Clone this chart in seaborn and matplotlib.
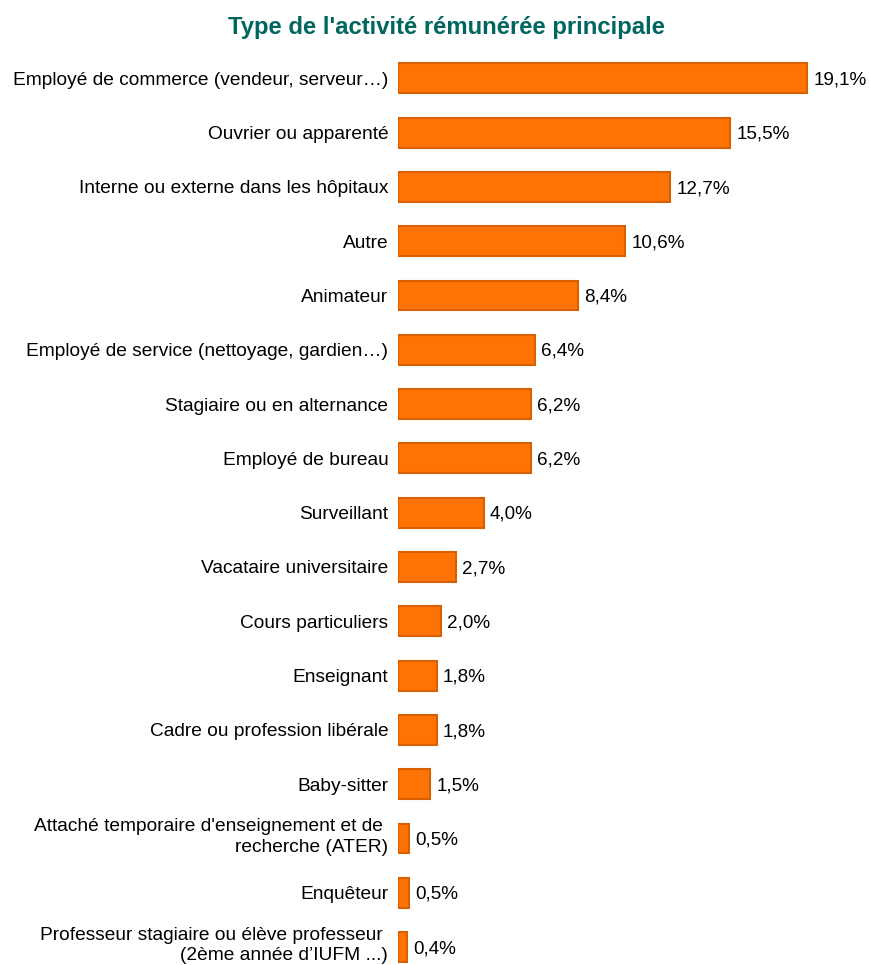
import matplotlib
matplotlib.use("Agg")
import matplotlib.pyplot as plt
import matplotlib.transforms as mtransforms
import seaborn as sns
import pandas as pd

categories = [
    "Employé de commerce (vendeur, serveur…)",
    "Ouvrier ou apparenté",
    "Interne ou externe dans les hôpitaux",
    "Autre",
    "Animateur",
    "Employé de service (nettoyage, gardien…)",
    "Stagiaire ou en alternance",
    "Employé de bureau",
    "Surveillant",
    "Vacataire universitaire",
    "Cours particuliers",
    "Enseignant",
    "Cadre ou profession libérale",
    "Baby-sitter",
    "Attaché temporaire d'enseignement et de \nrecherche (ATER)",
    "Enquêteur",
    "Professeur stagiaire ou élève professeur \n(2ème année d’IUFM ...)",
]
values = [19.1, 15.5, 12.7, 10.6, 8.4, 6.4, 6.2, 6.2, 4.0, 2.7, 2.0, 1.8, 1.8, 1.5, 0.5, 0.5, 0.4]
value_labels = ["19,1%", "15,5%", "12,7%", "10,6%", "8,4%", "6,4%", "6,2%", "6,2%", "4,0%",
                "2,7%", "2,0%", "1,8%", "1,8%", "1,5%", "0,5%", "0,5%", "0,4%"]
title = "Type de l'activité rémunérée principale"

df = pd.DataFrame({"cat": categories, "val": values})

sns.set_theme(style="white")
plt.rcParams["font.family"] = ["Liberation Sans", "DejaVu Sans"]

fig = plt.figure(figsize=(8.69, 9.65), dpi=100)
ax = fig.add_axes([0.458, 0.0, 0.542, 0.947])

sns.barplot(data=df, x="val", y="cat", ax=ax, color="#FF7304", saturation=1,
            width=0.55, edgecolor="#D96000", linewidth=1.5)

for i, (v, lab) in enumerate(zip(values, value_labels)):
    ax.text(v + 0.3, i + 0.03, lab, va="center", ha="left", fontsize=13.6, color="#000000")

ax.set_xlim(0, 22.0)
ax.set_ylim(16.33, -0.5)
ax.set_xlabel("")
ax.set_ylabel("")
ax.set_xticks([])
for s in ax.spines.values():
    s.set_visible(False)
ax.tick_params(axis="y", length=0, pad=7, labelsize=13.8, labelcolor="#000000")
shift_up = mtransforms.ScaledTranslation(0, 4 / 72, fig.dpi_scale_trans)
for t in ax.get_yticklabels():
    t.set_linespacing(1.3)
    if "\n" in t.get_text():
        t.set_transform(t.get_transform() + shift_up)

fig.text(0.514, 0.971, title, ha="center", va="center", fontsize=17.2,
         fontweight="bold", color="#00665F")

fig.savefig("out.png", dpi=100)
